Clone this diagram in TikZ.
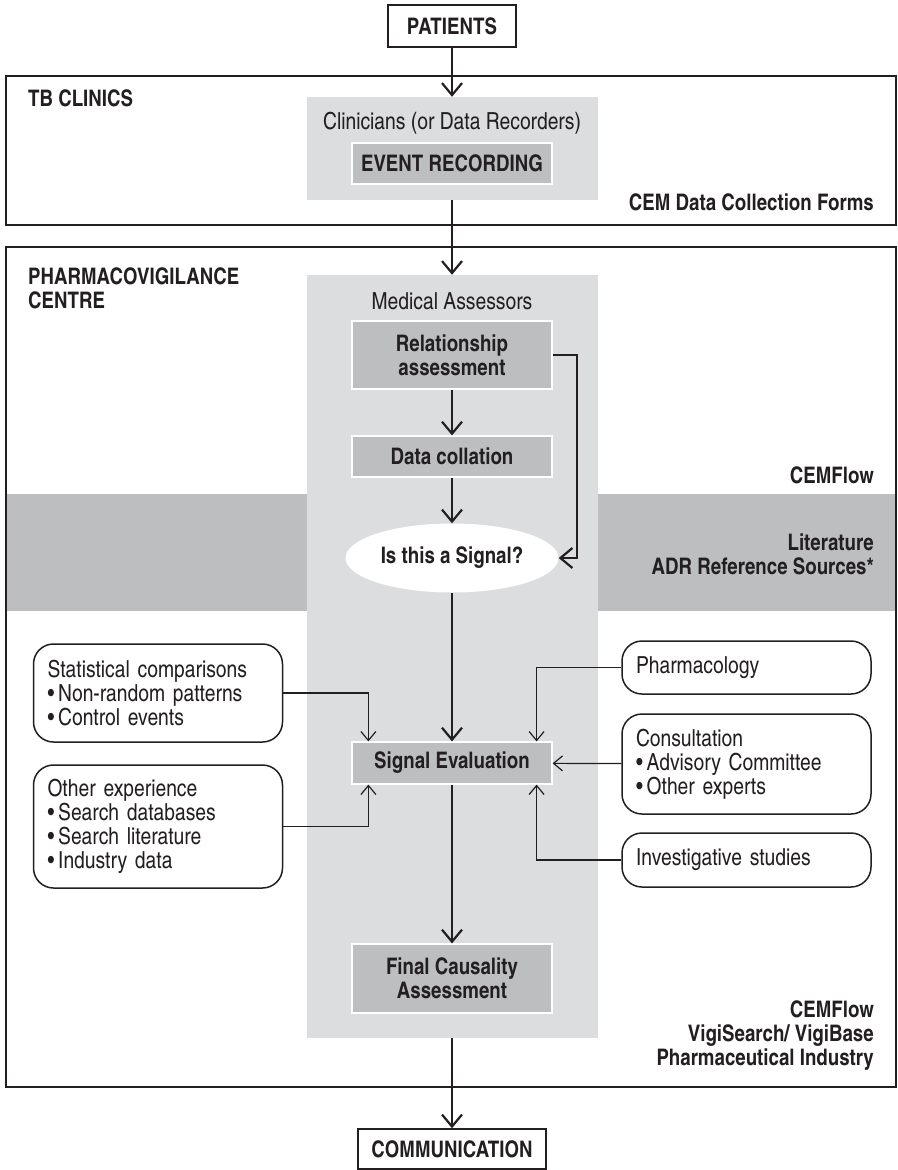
\documentclass[tikz,border=0pt]{standalone}
\usepackage{fontspec}
\setmainfont{texgyreheroscn}[Extension=.otf,UprightFont=*-regular,BoldFont=*-bold,ItalicFont=*-italic,BoldItalicFont=*-bolditalic]
\usetikzlibrary{arrows.meta,shapes.geometric,positioning}
\definecolor{pale}{RGB}{220,221,223}
\definecolor{mid}{RGB}{188,190,192}
\definecolor{ink}{RGB}{35,31,32}

\begin{document}
\begin{tikzpicture}[x=1pt,y=-1pt,
    every node/.style={font=\fontsize{23.5}{24}\selectfont, text=ink},
    strong/.style={font=\fontsize{22.8}{24}\selectfont\bfseries},
    frame/.style={draw=ink, line width=1.5pt},
    endbox/.style={frame, strong, fill=white, inner sep=0pt},
    column/.style={fill=pale, inner sep=0pt, minimum width=291pt},
    stepbox/.style={strong, fill=mid, draw=white, line width=1.2pt, inner sep=0pt, minimum width=200pt, align=center},
    sidebox/.style={frame, fill=white, rounded corners=20pt, inner sep=0pt, text width=221pt, minimum width=249pt, align=left},
    heading/.style={strong, anchor=west, align=left, inner sep=0pt},
    source/.style={strong, anchor=east, align=right, inner sep=0pt},
    flow/.style={draw=ink, line width=2.2pt, -{Straight Barb[length=12pt,width=20pt]}},
    feed/.style={draw=ink, line width=1.2pt, -{Straight Barb[length=9pt,width=15pt]}}]
      \fill[white] (0,0) rectangle (897,1170);
      \useasboundingbox (0,0) rectangle (897,1170);

      \fill[mid] (6,494) rectangle (896,611);
      \draw[frame] (6,76) rectangle (896,225);
      \draw[frame] (6,247) rectangle (896,1087);

      \node[column, minimum height=103pt] (clincol) at (452,148.5) {};
      \node[column, minimum height=763pt] (pvcol) at (452,656.5) {};

      \node[endbox, minimum width=128pt, minimum height=42pt] (patients) at (452,26) {PATIENTS};
      \node[endbox, minimum width=188pt, minimum height=40pt] (communication) at (452,1149) {COMMUNICATION};

      \node[heading] (tb) at (28,98) {TB CLINICS};
      \node[heading] (pv) at (28,288.5) {PHARMACOVIGILANCE\\CENTRE};
      \node[source] (forms) at (874,202) {CEM Data Collection Forms};
      \node[source] (cemflow) at (874,475) {CEMFlow};
      \node[source] (refs) at (874,554.5) {Literature\\ADR Reference Sources*};
      \node[source] (tools) at (874,1036) {CEMFlow\\VigiSearch/ VigiBase\\Pharmaceutical Industry};

      \node (clinicians) at (452,123) {Clinicians (or Data Recorders)};
      \node[stepbox, minimum height=41pt] (event) at (452,163.5) {EVENT RECORDING};
      \node (assessors) at (452,301) {Medical Assessors};
      \node[stepbox, minimum height=68pt] (relation) at (452,355) {Relationship\\assessment};
      \node[stepbox, minimum height=41pt] (collation) at (452,456.5) {Data collation};
      \node[ellipse, strong, fill=white, inner sep=0pt, minimum width=213pt, minimum height=69pt] (signal) at (452,558) {Is this a Signal?};
      \node[stepbox, minimum height=42pt] (evaluation) at (452,763) {Signal Evaluation};
      \node[stepbox, minimum height=69pt] (final) at (452,978.5) {Final Causality\\Assessment};

      \node[sidebox, minimum height=98pt] (stats) at (158,693) {Statistical comparisons\\\textbullet\,Non-random patterns\\\textbullet\,Control events};
      \node[sidebox, minimum height=123pt] (experience) at (158,826.5) {Other experience\\\textbullet\,Search databases\\\textbullet\,Search literature\\\textbullet\,Industry data};
      \node[sidebox, minimum height=53pt] (pharmacology) at (746.5,667.5) {Pharmacology};
      \node[sidebox, minimum height=100pt] (consultation) at (746.5,764) {Consultation\\\textbullet\,Advisory Committee\\\textbullet\,Other experts};
      \node[sidebox, minimum height=54pt] (studies) at (746.5,860) {Investigative studies};

      \draw[flow] (patients) -- (clincol);
      \draw[flow] (clincol) -- (pvcol);
      \draw[flow] (relation) -- (collation);
      \draw[flow] (collation) -- (signal);
      \draw[flow] (relation.east) -- ++(24,0) |- (signal.east);
      \draw[flow] (signal) -- (evaluation);
      \draw[flow] (evaluation) -- (final);
      \draw[flow] (pvcol) -- (communication);

      \draw[feed] (stats) -| ([xshift=17pt]evaluation.north west);
      \draw[feed] (experience) -| ([xshift=17pt]evaluation.south west);
      \draw[feed] (pharmacology) -| ([xshift=-16pt]evaluation.north east);
      \draw[feed] (consultation) -- (evaluation);
      \draw[feed] (studies) -| ([xshift=-16pt]evaluation.south east);
\end{tikzpicture}
\end{document}
